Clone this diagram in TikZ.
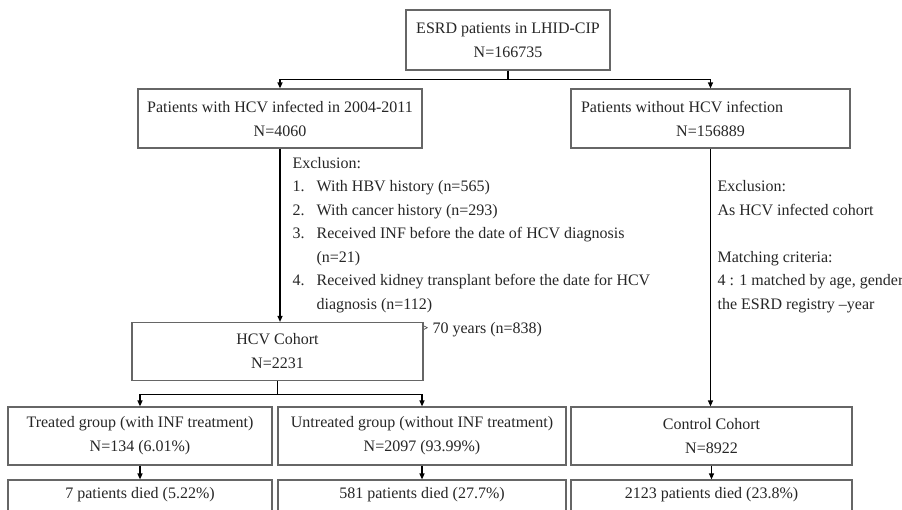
\documentclass[tikz,border=0pt]{standalone}
\usepackage{fontspec}
\setmainfont{Liberation Serif}
\usetikzlibrary{arrows.meta}

\begin{document}
\begin{tikzpicture}[x=1pt,y=-1pt,line width=1.2pt,
  every node/.style={font=\fontsize{16}{24}\selectfont,text=black!85},
  box/.style={draw=black!60,fill=white,align=center,inner sep=0pt},
  note/.style={anchor=north west,inner sep=0pt,align=left,font=\fontsize{16}{23.5}\selectfont},
  arr/.style={-{Triangle[length=6pt,width=5pt]}}]
\useasboundingbox (0,0) rectangle (902,509);
\clip (0,0) rectangle (902,509);
% exclusion notes
\node[note] (excl) at (292,156.5) {Exclusion:\\
  \makebox[24pt][l]{1.}With HBV history (n=565)\\
  \makebox[24pt][l]{2.}With cancer history (n=293)\\
  \makebox[24pt][l]{3.}Received INF before the date of HCV diagnosis\\
  \hspace*{24pt}(n=21)\\
  \makebox[24pt][l]{4.}Received kidney transplant before the date for HCV\\
  \hspace*{24pt}diagnosis (n=112)};
\node[anchor=base west,inner sep=0pt] (age) at (419,333) {> 70 years (n=838)};
\node[note] (match) at (717,180) {Exclusion:\\As HCV infected cohort\\[23.5pt]
  Matching criteria:\\4 : 1 matched by age, gender\\the ESRD registry --year};
% boxes
\node[box,minimum width=204,minimum height=60] (esrd) at (508,40) {ESRD patients in LHID-CIP\\N=166735};
\node[box,minimum width=284,minimum height=59] (hcv) at (280,118.5) {Patients with HCV infected in 2004-2011\\N=4060};
\node[box,minimum width=279,minimum height=59,align=left] (nohcv) at (710.5,118.5) {Patients without HCV infection\\\makebox[259pt]{N=156889}};
\node[box,minimum width=291,minimum height=58] (cohort) at (277.5,351.5) {HCV Cohort\\N=2231};
\node[box,minimum width=264,minimum height=58] (treated) at (140,436) {Treated group (with INF treatment)\\N=134 (6.01\%)};
\node[box,minimum width=288,minimum height=58] (untreated) at (422,436) {Untreated group (without INF treatment)\\N=2097 (93.99\%)};
\node[box,minimum width=281,minimum height=58] (control) at (711.5,436) {Control Cohort\\N=8922};
\node[box,minimum width=264,minimum height=58] (died1) at (140,509) {7 patients died (5.22\%)\\\strut};
\node[box,minimum width=288,minimum height=58] (died2) at (422,509) {581 patients died (27.7\%)\\\strut};
\node[box,minimum width=281,minimum height=58] (died3) at (711.5,509) {2123 patients died (23.8\%)\\\strut};
% connectors
\draw[arr] (esrd.south) -- ++(0,9) -| (hcv.north);
\draw[arr] (esrd.south) -- ++(0,9) -| (nohcv.north);
\draw[arr] (hcv.south) -- (hcv.south |- cohort.north);
\draw[arr] (nohcv.south) -- (nohcv.south |- control.north);
\draw[arr] (cohort.south) -- ++(0,13) -| (treated.north);
\draw[arr] (cohort.south) -- ++(0,13) -| (untreated.north);
\foreach \a/\b in {treated/died1,untreated/died2,control/died3}
  \draw[arr] (\a.south) -- (\b.north);
\end{tikzpicture}
\end{document}
